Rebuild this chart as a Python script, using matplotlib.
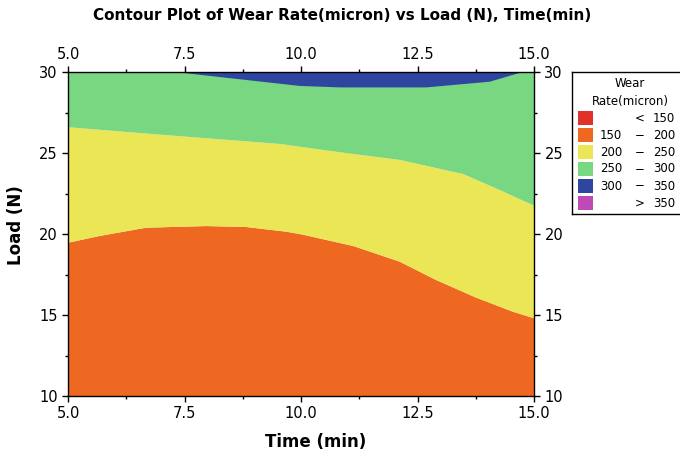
import matplotlib
matplotlib.use('Agg')
import matplotlib.pyplot as plt
from matplotlib.patches import Rectangle
from matplotlib.ticker import MultipleLocator

# contour boundaries (time in min, load in N)
time_200 = [5.0, 5.68, 6.68, 7.97, 8.83, 9.69, 10.04, 11.12, 12.12, 12.9, 13.76, 14.55, 15.0]
load_200 = [19.46, 19.88, 20.39, 20.49, 20.43, 20.14, 19.96, 19.26, 18.29, 17.16, 16.07, 15.2, 14.8]

time_250 = [5.0, 6.9, 9.54, 10.9, 12.12, 13.48, 14.26, 15.0]
load_250 = [26.59, 26.15, 25.56, 25.02, 24.57, 23.7, 22.72, 21.75]

time_300 = [7.29, 9.97, 10.83, 12.69, 14.05, 14.76]
load_300 = [30.0, 29.14, 29.05, 29.05, 29.4, 30.0]

levels = [150, 200, 250, 300, 350]
colors = ['#E0322A', '#EF6821', '#EBE655', '#79D782', '#2F46A1', '#BE4BB5']

t_min, t_max = 5.0, 15.0
l_min, l_max = 10.0, 30.0

fig = plt.figure(figsize=(6.8, 4.59), dpi=100)
ax = fig.add_axes([68/680, 1-396/459, 466/680, 324/459])

# orange: bottom edge up to the 200 line
ax.fill([t_min, t_max] + time_200[::-1], [l_min, l_min] + load_200[::-1],
        color=colors[1], lw=0)
# yellow: between 200 and 250 lines
ax.fill(time_200 + time_250[::-1], load_200 + load_250[::-1], color=colors[2], lw=0)
# green: 250 line up to top
ax.fill(time_250 + [t_max, t_min], load_250 + [l_max, l_max], color=colors[3], lw=0)
# blue patch at the top
ax.fill(time_300, load_300, color=colors[4], lw=0)

ax.set_xlim(t_min, t_max)
ax.set_ylim(l_min, l_max)
ax.xaxis.set_major_locator(MultipleLocator(2.5))
ax.xaxis.set_minor_locator(MultipleLocator(1.25))
ax.yaxis.set_major_locator(MultipleLocator(5))
ax.yaxis.set_minor_locator(MultipleLocator(2.5))
ax.xaxis.set_major_formatter(matplotlib.ticker.FormatStrFormatter('%.1f'))
ax.tick_params(which='both', direction='out', top=True, right=True,
               labeltop=True, labelright=True, labelsize=10.5)
ax.tick_params(which='major', length=4, width=1)
ax.tick_params(which='minor', length=2.5, width=1)
for s in ax.spines.values():
    s.set_linewidth(1)

ax.set_xlabel('Time (min)', fontsize=12, fontweight='bold')
ax.set_ylabel('Load (N)', fontsize=12, fontweight='bold')
ax.xaxis.set_label_coords(0.532, -0.114)
ax.yaxis.set_label_coords(-0.092, 0.526)

fig.text(0.503, 1-15/459, 'Contour Plot of Wear Rate(micron) vs Load (N), Time(min)',
         ha='center', va='center', fontsize=11, fontweight='bold')

# legend box drawn by hand
lg = fig.add_axes([572/680, 1-214/459, 110/680, 142/459])
lg.set_xlim(0, 110)
lg.set_ylim(142, 0)
lg.set_xticks([])
lg.set_yticks([])
lg.patch.set_facecolor('white')
for s in lg.spines.values():
    s.set_linewidth(1)
fs = 8.5
lg.text(58, 11, 'Wear', ha='center', va='center', fontsize=fs)
lg.text(58, 29.5, 'Rate(micron)', ha='center', va='center', fontsize=fs)
bounds = [None] + levels + [None]
for i, c in enumerate(colors):
    yc = 46 + i*17
    lg.add_patch(Rectangle((6, yc-7), 15, 14, color=c, lw=0))
    lo, hi = bounds[i], bounds[i+1]
    if lo is None:
        lg.text(68, yc, '<', ha='center', va='center', fontsize=fs)
        lg.text(103, yc, str(hi), ha='right', va='center', fontsize=fs)
    elif hi is None:
        lg.text(68, yc, '>', ha='center', va='center', fontsize=fs)
        lg.text(103, yc, str(lo), ha='right', va='center', fontsize=fs)
    else:
        lg.text(50, yc, str(lo), ha='right', va='center', fontsize=fs)
        lg.text(68, yc, '\u2212', ha='center', va='center', fontsize=fs)
        lg.text(103, yc, str(hi), ha='right', va='center', fontsize=fs)

fig.savefig('out.png', dpi=100)
